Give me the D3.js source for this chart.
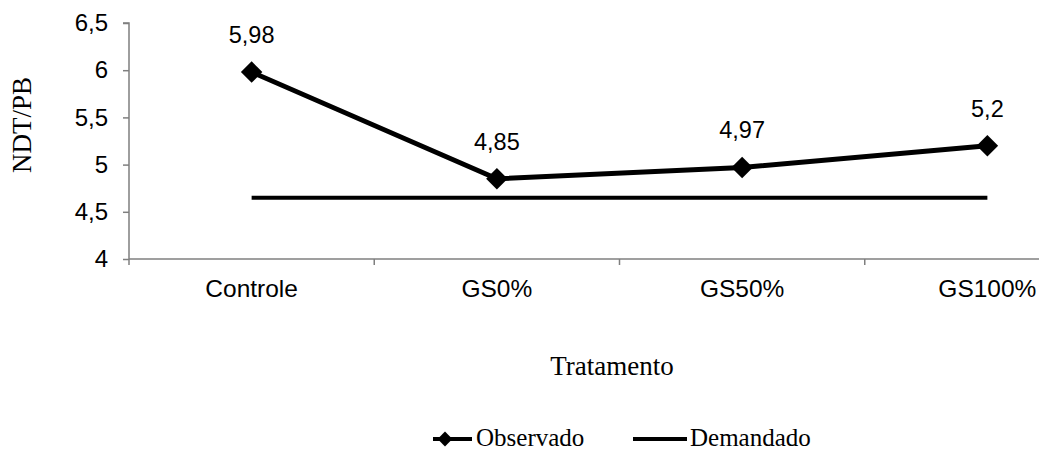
<!DOCTYPE html>
<html>
<head>
<meta charset="utf-8">
<script src="https://cdn.jsdelivr.net/npm/d3@7"></script>
<style>
  html, body { margin: 0; padding: 0; background: #fff; overflow: hidden; }
  svg { display: block; }
</style>
</head>
<body>
<svg id="chart" width="1039" height="452"></svg>
<script>
// Treatments and NDT/PB ratios
const categories = ["Controle", "GS0%", "GS50%", "GS100%"];
const observado = [5.98, 4.85, 4.97, 5.2];
const observadoLabels = ["5,98", "4,85", "4,97", "5,2"];
const demandado = [4.65, 4.65, 4.65, 4.65];
const yTicks = [4, 4.5, 5, 5.5, 6, 6.5];
const yTickLabels = ["4", "4,5", "5", "5,5", "6", "6,5"];

const svg = d3.select("#chart");

const x = d3.scaleBand().domain(categories).range([129, 1110]).padding(0);
const y = d3.scaleLinear().domain([4, 6.5]).range([259, 23]);
const cx = d => x(d) + x.bandwidth() / 2;

const axisColor = "#7f7f7f";
const sans = "Arial, 'Liberation Sans', sans-serif";
const serif = "'Times New Roman', 'Liberation Serif', serif";

// Y axis
const yAxis = svg.append("g")
  .attr("transform", "translate(129,0)")
  .call(d3.axisLeft(y).tickValues(yTicks).tickSize(6).tickPadding(15)
    .tickFormat((d, i) => yTickLabels[i]));
yAxis.selectAll("path, line").attr("stroke", axisColor).attr("stroke-width", 1.5);
yAxis.select(".domain").attr("d", `M-6,${y(6.5)}H0V${y(4)}`);
yAxis.selectAll("text").attr("font-family", sans).attr("font-size", 24).attr("fill", "#000");

// X axis with ticks at category boundaries
const xg = svg.append("g").attr("transform", `translate(0,${y(4)})`);
xg.append("line").attr("x1", 129).attr("x2", 1110).attr("y1", 0).attr("y2", 0)
  .attr("stroke", axisColor).attr("stroke-width", 1.5);
xg.selectAll("line.tick")
  .data(categories.map(c => x(c)).concat([x(categories[3]) + x.bandwidth()]))
  .enter().append("line").attr("class", "tick")
  .attr("x1", d => d).attr("x2", d => d).attr("y1", 0).attr("y2", 6)
  .attr("stroke", axisColor).attr("stroke-width", 1.5);
xg.selectAll("text")
  .data(categories).enter().append("text")
  .attr("x", d => cx(d)).attr("y", 38)
  .attr("text-anchor", "middle")
  .attr("font-family", sans).attr("font-size", 24.5)
  .text(d => d);

// Demanded line
const line = d3.line().x((d, i) => cx(categories[i])).y(d => y(d));
svg.append("path").datum(demandado)
  .attr("d", line).attr("fill", "none")
  .attr("stroke", "#000").attr("stroke-width", 4);

// Observed line with diamond markers
svg.append("path").datum(observado)
  .attr("d", line).attr("fill", "none")
  .attr("stroke", "#000").attr("stroke-width", 5).attr("stroke-linejoin", "round");

const diamond = d3.symbol().type(d3.symbolSquare).size(230);
svg.selectAll("path.marker")
  .data(observado).enter().append("path").attr("class", "marker")
  .attr("d", diamond)
  .attr("transform", (d, i) => `translate(${cx(categories[i])},${y(d)}) rotate(45)`)
  .attr("fill", "#000");

svg.selectAll("text.value")
  .data(observado).enter().append("text").attr("class", "value")
  .attr("x", (d, i) => cx(categories[i]))
  .attr("y", d => y(d) - 29)
  .attr("text-anchor", "middle")
  .attr("font-family", sans).attr("font-size", 23.5)
  .text((d, i) => observadoLabels[i]);

// Axis titles
svg.append("text")
  .attr("transform", "translate(31,125) rotate(-90)")
  .attr("text-anchor", "middle")
  .attr("font-family", serif).attr("font-size", 27)
  .text("NDT/PB");
svg.append("text")
  .attr("x", 612).attr("y", 375)
  .attr("text-anchor", "middle")
  .attr("font-family", serif).attr("font-size", 27)
  .text("Tratamento");

// Legend
const legY = 439;
const leg = svg.append("g");
leg.append("line").attr("x1", 433).attr("x2", 472).attr("y1", legY).attr("y2", legY)
  .attr("stroke", "#000").attr("stroke-width", 4);
leg.append("path").attr("d", d3.symbol().type(d3.symbolSquare).size(110))
  .attr("transform", `translate(445,${legY}) rotate(45)`).attr("fill", "#000");
leg.append("text").attr("x", 476).attr("y", 446)
  .attr("font-family", serif).attr("font-size", 25).text("Observado");
leg.append("line").attr("x1", 633).attr("x2", 687).attr("y1", legY).attr("y2", legY)
  .attr("stroke", "#000").attr("stroke-width", 4);
leg.append("text").attr("x", 690).attr("y", 446)
  .attr("font-family", serif).attr("font-size", 25).text("Demandado");
</script>
</body>
</html>
